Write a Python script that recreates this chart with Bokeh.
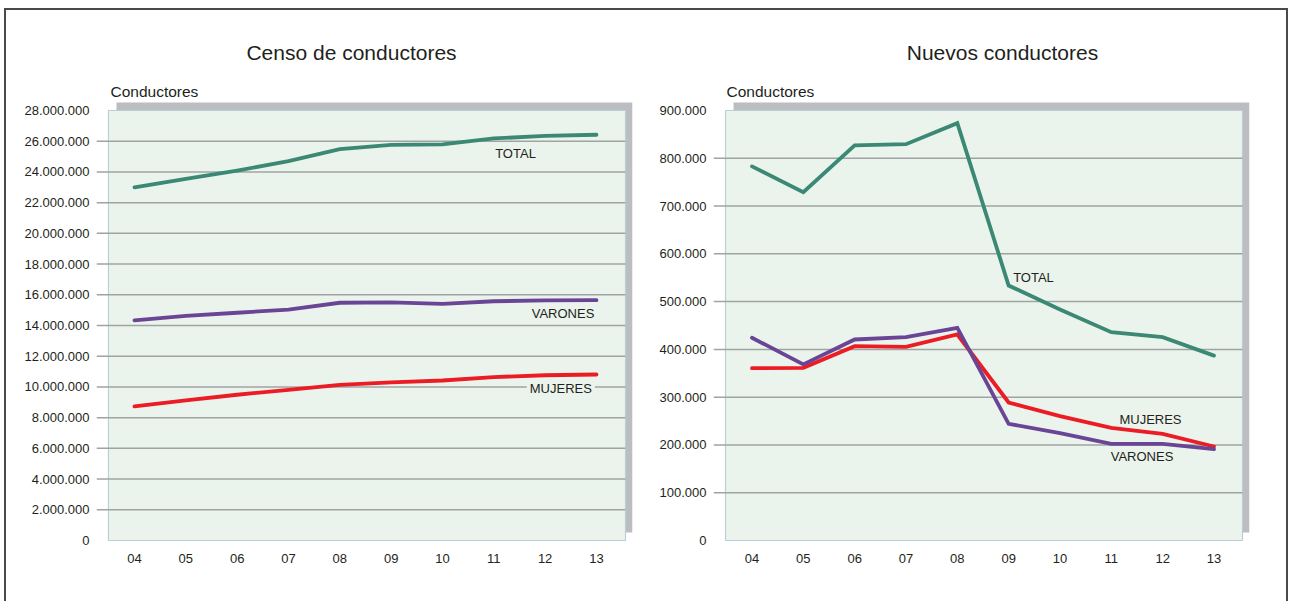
from bokeh.plotting import figure
from bokeh.models import Range1d, FixedTicker, Label
from bokeh.layouts import row
from bokeh.embed import file_html
from bokeh.resources import INLINE

# ---------------- data ----------------
years = ["04", "05", "06", "07", "08", "09", "10", "11", "12", "13"]

censo_total = [23.00e6, 23.55e6, 24.09e6, 24.70e6, 25.48e6, 25.76e6, 25.79e6, 26.18e6, 26.35e6, 26.42e6]
censo_varones = [14.33e6, 14.63e6, 14.83e6, 15.04e6, 15.48e6, 15.50e6, 15.41e6, 15.58e6, 15.63e6, 15.65e6]
censo_mujeres = [8.73e6, 9.12e6, 9.49e6, 9.81e6, 10.14e6, 10.29e6, 10.42e6, 10.64e6, 10.76e6, 10.81e6]

nuevos_total = [783000, 729000, 827000, 829500, 873500, 533700, 483500, 436000, 425500, 387000]
nuevos_varones = [424300, 368400, 420700, 425500, 445200, 244200, 224600, 202400, 202400, 191100]
nuevos_mujeres = [360600, 361400, 406700, 405400, 431200, 288800, 260200, 235900, 223300, 196700]

censo_ticks = [0, 2e6, 4e6, 6e6, 8e6, 10e6, 12e6, 14e6, 16e6, 18e6, 20e6, 22e6, 24e6, 26e6, 28e6]
censo_tick_labels = ["0", "2.000.000", "4.000.000", "6.000.000", "8.000.000", "10.000.000",
                     "12.000.000", "14.000.000", "16.000.000", "18.000.000", "20.000.000",
                     "22.000.000", "24.000.000", "26.000.000", "28.000.000"]
nuevos_ticks = [0, 100000, 200000, 300000, 400000, 500000, 600000, 700000, 800000, 900000]
nuevos_tick_labels = ["0", "100.000", "200.000", "300.000", "400.000", "500.000",
                      "600.000", "700.000", "800.000", "900.000"]

titles = ["Censo de conductores", "Nuevos conductores"]
y_title = "Conductores"
series_names = ["TOTAL", "VARONES", "MUJERES"]

# ---------------- style ----------------
C_TOTAL = "#3b8874"
C_VAR = "#6a4596"
C_MUJ = "#ec1c24"
C_BG = "#ebf4ec"
C_SHADOW = "#bbbdc1"
C_EDGE = "#b9ced6"
C_GRID = "#a0a3a3"
C_TEXT = "#231f20"
SANS = "Liberation Sans"

xs = list(range(len(years)))


def make_panel(ticks, tick_labels, total, varones, mujeres,
               xr, yr, green, shadow, min_left, width, labels):
    p = figure(width=width, height=591, frame_width=536, frame_height=531,
               x_range=Range1d(*xr), y_range=Range1d(*yr),
               output_backend="svg", toolbar_location=None,
               min_border_left=min_left, min_border_right=width - min_left - 536,
               min_border_top=0, min_border_bottom=60,
               background_fill_color="white", border_fill_color="white",
               outline_line_color=None)
    p.xgrid.visible = False
    p.ygrid.visible = False

    # shadow and plot background
    p.quad(left=[shadow[0]], right=[shadow[1]], bottom=[shadow[2]], top=[shadow[3]],
           fill_color=C_SHADOW, line_color=None)
    p.quad(left=[green[0]], right=[green[1]], bottom=[ticks[0]], top=[ticks[-1]],
           fill_color=C_BG, line_color=C_EDGE, line_width=1.2)

    # grid lines (extend left past the plot area)
    grid_vals = ticks[1:-1]
    p.segment(x0=[xr[0]] * len(grid_vals), x1=[green[1]] * len(grid_vals),
              y0=grid_vals, y1=grid_vals, line_color=C_GRID, line_width=1.5)

    for vals, col in ((total, C_TOTAL), (mujeres, C_MUJ), (varones, C_VAR)):
        p.line(xs, vals, line_color=col, line_width=3.8, line_join="miter", line_cap="round")

    # axes
    p.yaxis.ticker = FixedTicker(ticks=ticks)
    p.yaxis.major_label_overrides = {t: l for t, l in zip(ticks, tick_labels)}
    p.xaxis.ticker = FixedTicker(ticks=xs)
    p.xaxis.major_label_overrides = {i: y for i, y in zip(xs, years)}
    for ax in (p.xaxis[0], p.yaxis[0]):
        ax.axis_line_color = None
        ax.major_tick_line_color = None
        ax.minor_tick_line_color = None
        ax.major_tick_in = 0
        ax.major_tick_out = 0
        ax.major_label_text_font = SANS
        ax.major_label_text_font_size = "13px"
        ax.major_label_text_color = C_TEXT
    p.yaxis.major_label_standoff = 7
    p.xaxis.major_label_standoff = 12

    for (txt, x, y, size, align, bg) in labels:
        lab = Label(x=x, y=y, text=txt, text_font=SANS, text_font_size=size,
                    text_color=C_TEXT, text_align=align, text_baseline="middle")
        if bg:
            lab.background_fill_color = C_BG
            lab.padding = 3
        p.add_layout(lab)
    return p


p1 = make_panel(
    censo_ticks, censo_tick_labels, censo_total, censo_varones, censo_mujeres,
    xr=(-0.740, 9.702), yr=(-65116, 34.5116e6),
    green=(-0.507, 9.566), shadow=(-0.351, 9.702, 0.521e6, 28.521e6),
    min_left=90, width=640,
    labels=[(titles[0], 4.228, 31.777e6, "21px", "center", False),
            (y_title, -0.468, 29.237e6, "15.5px", "left", False),
            (series_names[0], 7.423, 25.18e6, "13px", "center", False),
            (series_names[1], 8.348, 14.76e6, "13px", "center", False),
            (series_names[2], 8.306, 9.878e6, "13px", "center", True)])

p2 = make_panel(
    nuevos_ticks, nuevos_tick_labels, nuevos_total, nuevos_varones, nuevos_mujeres,
    xr=(-0.750, 9.692), yr=(-2093, 1109302),
    green=(-0.516, 9.556), shadow=(-0.360, 9.692, 16744, 916744),
    min_left=67, width=640,
    labels=[(titles[1], 4.880, 1021394, "21px", "center", False),
            (y_title, -0.497, 939766, "15.5px", "left", False),
            (series_names[0], 5.484, 551092, "13px", "center", False),
            (series_names[2], 7.763, 253255, "13px", "center", False),
            (series_names[1], 7.598, 175814, "13px", "center", False)])

layout = row(p1, p2, styles={"margin-left": "4px", "margin-top": "8px",
                             "border-left": "2px solid #4a4a4a",
                             "border-top": "2px solid #4a4a4a",
                             "border-right": "2px solid #4a4a4a",
                             "background-color": "white"})

open("out.html", "w").write(file_html(layout, INLINE))
